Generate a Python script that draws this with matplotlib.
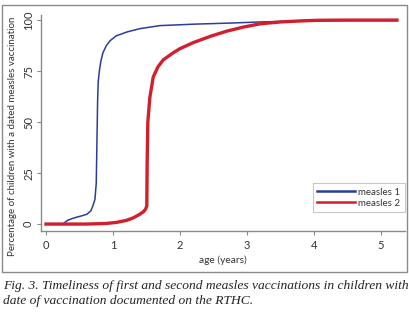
import matplotlib.pyplot as plt
from matplotlib.patches import Rectangle

# cumulative coverage curves
age_m1 = [0.25, 0.32, 0.40, 0.46, 0.53, 0.61, 0.67, 0.70, 0.73, 0.75, 0.76, 0.77, 0.78, 0.80, 0.82,
          0.85, 0.90, 0.96, 1.05, 1.21, 1.40, 1.70, 2.20, 2.80, 3.20, 3.80, 4.20, 5.24]
pct_m1 = [0.0, 1.8, 2.8, 3.4, 4.0, 4.8, 6.5, 9.0, 12.0, 20.0, 40.0, 60.0, 70.0, 76.0, 80.0,
          84.0, 87.5, 90.0, 92.3, 94.2, 95.8, 97.3, 98.0, 98.6, 99.1, 99.6, 99.8, 99.8]

age_m2 = [0.0, 0.6, 0.9, 1.05, 1.20, 1.30, 1.40, 1.46, 1.49, 1.505, 1.51, 1.52, 1.55, 1.60, 1.67,
          1.75, 1.90, 2.00, 2.20, 2.45, 2.70, 2.95, 3.20, 3.50, 3.80, 4.05, 4.50, 5.24]
pct_m2 = [0.0, 0.0, 0.3, 0.8, 1.8, 3.0, 4.8, 6.2, 7.5, 9.0, 30.0, 50.0, 62.0, 72.0, 77.0,
          80.5, 84.0, 86.0, 89.0, 92.0, 94.6, 96.6, 98.2, 99.1, 99.6, 99.9, 100.0, 100.0]

x_ticks = [0, 1, 2, 3, 4, 5]
y_ticks = [0, 25, 50, 75, 100]

caption = ("Fig. 3. Timeliness of first and second measles vaccinations in children with\n"
           "date of vaccination documented on the RTHC.")

plt.rcParams['font.family'] = ['Lato', 'DejaVu Sans']

fig = plt.figure(figsize=(4.10, 3.18), dpi=100)
ax = fig.add_axes([0.1, 0.2736, 0.8878, 0.6792])

grey = '#8a8a8a'
txt = '#333333'
ax.plot(age_m1, pct_m1, color='#2a3c9c', lw=1.1, label='measles 1')
ax.plot(age_m2, pct_m2, color='#d21f2b', lw=2.4, label='measles 2')

ax.set_xlim(-0.075, 5.36)
ax.set_ylim(-3.4, 102.5)
ax.set_xticks(x_ticks)
ax.set_yticks(y_ticks)
ax.set_yticklabels([str(v) for v in y_ticks], rotation=90, va='center')

for s in ['top', 'right']:
    ax.spines[s].set_visible(False)
for s in ['left', 'bottom']:
    ax.spines[s].set_color(grey)
    ax.spines[s].set_linewidth(1.0)
ax.tick_params(colors=grey, length=3, width=0.8, labelsize=8, labelcolor=txt)
ax.tick_params(axis='y', pad=2)
ax.tick_params(axis='x', pad=3.5)

ax.set_xlabel('age (years)', fontsize=7.3, color=txt, labelpad=3)
ax.set_ylabel('Percentage of children with a dated measles vaccination', fontsize=7.0,
              color=txt)
ax.yaxis.set_label_coords(-0.066, 0.4375)

leg = ax.legend(loc='lower right', bbox_to_anchor=(1.0, 0.088), fontsize=7, frameon=True,
                fancybox=False, handlelength=3.9, handletextpad=0.35, borderpad=0.45,
                labelspacing=0.2, borderaxespad=0.0)
leg.get_frame().set_edgecolor('#bbbbbb')
leg.get_frame().set_linewidth(0.8)
for t in leg.get_texts():
    t.set_color(txt)
for h in leg.get_lines():
    h.set_linewidth(1.8)

# outer box around the chart
fig.patches.append(Rectangle((2 / 410, 1 - 272 / 318), 405 / 410, 267 / 318,
                             transform=fig.transFigure, fill=False, edgecolor=grey, lw=1.0))

fig.text(3 / 410, 1 - 280 / 318, caption, ha='left', va='top', fontsize=9.7, style='italic',
         family='Liberation Serif', color='#222222', linespacing=1.3)

fig.savefig('out.png', dpi=100)
